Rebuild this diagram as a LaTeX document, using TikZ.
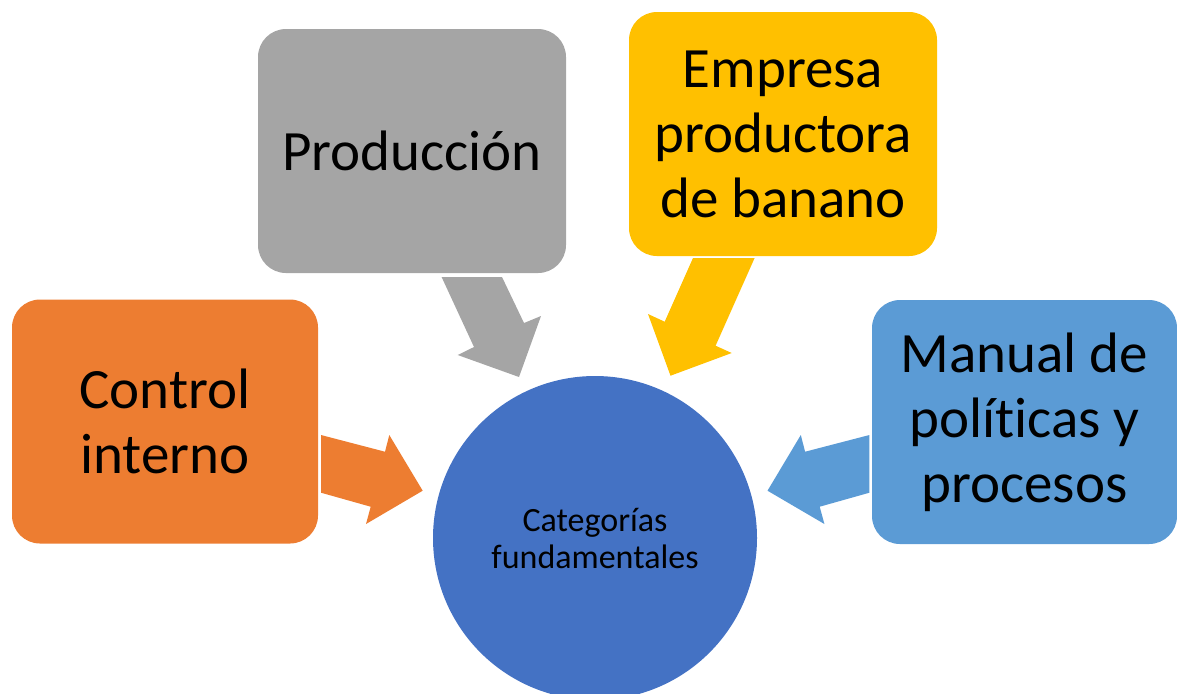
\documentclass[tikz,border=0pt]{standalone}
\usepackage{fontspec}
\setmainfont[RawFeature={-liga;-clig;-dlig;-calt}]{Carlito}
\definecolor{corange}{HTML}{ED7D31}
\definecolor{cgray}{HTML}{A5A5A5}
\definecolor{cyellow}{HTML}{FFC000}
\definecolor{cblue}{HTML}{5B9BD5}
\definecolor{cdark}{HTML}{4472C4}
\begin{document}
\begin{tikzpicture}[x=0.5pt,y=-0.5pt,
  box/.style={rounded corners=14pt, inner sep=0pt, minimum width=153pt, minimum height=122pt,
    align=center, font=\fontsize{28.5}{32.5}\selectfont, text=black}]
\useasboundingbox (0,0) rectangle (1177,693);
\clip (0,0) rectangle (1177,693);
% central circle
\node[circle, fill=cdark, minimum size=162pt, inner sep=0pt, align=center,
  font=\fontsize{17}{18.5}\selectfont] (cat) at (595,538) {Categorías\\fundamentales};
% boxes
\node[box, fill=corange] (ctrl) at (165,421.5) {Control\\interno};
\node[box, fill=cgray, minimum width=154pt] (prod) at (412,151) {Producción};
\node[box, fill=cyellow, minimum width=154pt] (emp) at (783,134) {Empresa\\productora\\de banano};
\node[box, fill=cblue, minimum width=152.5pt] (man) at (1024.5,422) {Manual de\\polít\kern0pt icas y\\procesos};
% block arrows
\fill[corange] (321,435) -- (385,451.7) -- (389.3,435) -- (422.7,490.7) -- (366,524) -- (370.7,506.7) -- (321,492.7) -- cycle;
\fill[cblue] (869.4,435) -- (805.1,451.7) -- (800.8,435) -- (767.5,490.7) -- (824.4,524) -- (819.7,506.7) -- (869.4,492.7) -- cycle;
\fill[cgray] (441.6,277) -- (502,277) -- (524,323) -- (541,316) -- (519,377) -- (457.7,355) -- (474,347) -- cycle;
\fill[cyellow] (693,258) -- (754.6,258) -- (715.6,345.7) -- (731.7,353) -- (670.5,375.7) -- (648,314) -- (664.7,321.7) -- cycle;
\end{tikzpicture}
\end{document}
